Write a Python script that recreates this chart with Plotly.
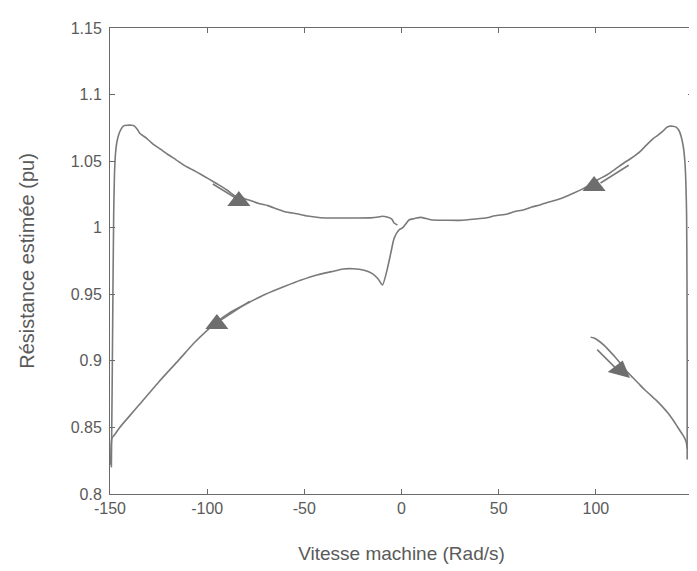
import plotly.graph_objects as go

# ---- data ----
# lower-right branch (speed 100 -> 150)
x_bas_droite = [97.3, 99, 101, 104, 107, 110, 113, 116, 119, 122, 125, 128, 131, 134, 137, 140, 142, 144, 145.5, 146.5, 147.0]
y_bas_droite = [0.9177, 0.9172, 0.9155, 0.912, 0.9075, 0.9027, 0.8975, 0.892, 0.8875, 0.883, 0.8785, 0.8745, 0.8705, 0.866, 0.861, 0.855, 0.8505, 0.846, 0.8425, 0.839, 0.834]

# right vertical, upper-right branch (150 -> 0), centre dip and lower-left branch (0 -> -150)
x_haut_droite = [147.0, 147.0, 146.9, 146.7, 146.3, 145.8, 145.0, 144.0, 142.8, 141.3, 139.5, 137.8, 136.3, 134.5, 132, 129.8, 126, 122.9,
                 118, 114.4, 110, 105.8, 101, 97.2, 93, 88.7, 84, 80.1, 75, 71.6, 67, 63, 58, 54.4, 48,
                 44, 38, 30, 23.6, 15, 9.9, 6.5, 4, 0.5, -1.2, -3.8, -5.5, -7.2, -9.8, -12, -15, -19.2,
                 -25, -30, -36, -43, -52, -60, -70, -79, -88, -96, -106, -115, -125, -135,
                 -140, -145, -147.6, -149, -149.6]
y_haut_droite = [0.826, 0.90, 0.96, 1.01, 1.035, 1.050, 1.061, 1.068, 1.073, 1.0755, 1.0762, 1.0762, 1.0752, 1.0725, 1.0695, 1.0672, 1.062, 1.0574,
                 1.052, 1.0486, 1.044, 1.0398, 1.036, 1.0323, 1.029, 1.026, 1.023, 1.021, 1.019, 1.0173, 1.0155, 1.0135, 1.012, 1.0103, 1.009,
                 1.0075, 1.0065, 1.0055, 1.0056, 1.006, 1.0078, 1.0068, 1.006, 0.9998, 0.9985, 0.992, 0.981, 0.9697, 0.957, 0.9615, 0.9655, 0.968,
                 0.9692, 0.969, 0.967, 0.9647, 0.9605, 0.956, 0.950, 0.9435, 0.9365, 0.928, 0.9145, 0.900, 0.884, 0.867,
                 0.8585, 0.850, 0.8445, 0.842, 0.822]

# left vertical and upper-left branch (-150 -> 0)
x_haut_gauche = [-149.3, -148.9, -148.5, -148.1, -147.7, -147.2, -146.5, -145.5, -144.3, -143, -141, -139, -137.5, -136, -134.7, -131, -128, -124, -120.2,
                 -116, -112, -107.5, -103.1, -99, -95, -90, -85.9, -81, -77, -73, -68.8, -64, -60, -54, -48.3, -41.6, -32.9, -24, -16, -12, -10, -7, -5, -3.8, -2.1]
y_haut_gauche = [0.82, 0.88, 0.95, 1.01, 1.04, 1.055, 1.064, 1.070, 1.074, 1.0765, 1.077, 1.077, 1.0765, 1.074, 1.071, 1.067, 1.063, 1.059, 1.055,
                 1.051, 1.047, 1.0435, 1.040, 1.0365, 1.033, 1.0285, 1.024, 1.022, 1.020, 1.018, 1.0166, 1.014, 1.012, 1.0105, 1.0088, 1.0075, 1.0073, 1.0073, 1.0074, 1.008, 1.0086, 1.0078, 1.0065, 1.0035, 1.002]

# direction arrows: shaft start/end and triangle head
fleche_x0 = [-97.1, 116.9, -78.2, 100.7]
fleche_y0 = [1.0328, 1.0469, 0.9447, 0.9084]
fleche_x1 = [-85.3, 102.4, -92.8, 111.0]
fleche_y1 = [1.0223, 1.0336, 0.9309, 0.8934]
tete_x = [-83.7, 99.1, -95.0, 112.5]
tete_y = [1.020, 1.0313, 0.9277, 0.893]
tete_angle = [0, 0, 0, 15]

x_ticks = [-150, -100, -50, 0, 50, 100, 150]
y_ticks = [0.8, 0.85, 0.9, 0.95, 1.0, 1.05, 1.1, 1.15]
y_tick_labels = ["0.8", "0.85", "0.9", "0.95", "1", "1.05", "1.1", "1.15"]

LINE = "#7a7a7a"
TEXT = "#5a5a5a"
FONT = "Liberation Sans, Arial, sans-serif"

fig = go.Figure()
for xs, ys in [(x_bas_droite, y_bas_droite), (x_haut_droite, y_haut_droite), (x_haut_gauche, y_haut_gauche)]:
    fig.add_trace(go.Scatter(x=xs, y=ys, mode="lines", line=dict(color=LINE, width=1.6, shape="spline", smoothing=0.6),
                             showlegend=False, hoverinfo="skip"))

for i in range(len(fleche_x0)):
    fig.add_trace(go.Scatter(x=[fleche_x0[i], fleche_x1[i]], y=[fleche_y0[i], fleche_y1[i]], mode="lines",
                             line=dict(color=LINE, width=1.6), showlegend=False, hoverinfo="skip"))

fig.add_trace(go.Scatter(x=tete_x, y=tete_y, mode="markers",
                         marker=dict(symbol="triangle-up", size=20, color="#6e6e6e", angle=tete_angle,
                                     line=dict(width=0)),
                         showlegend=False, hoverinfo="skip"))

axis_common = dict(showgrid=False, zeroline=False, showline=True, linecolor="#6a6a6a", linewidth=1,
                   mirror="ticks", ticks="inside", ticklen=5, tickcolor="#6a6a6a", automargin=False,
                   tickfont=dict(family=FONT, size=16, color=TEXT))

fig.update_xaxes(range=[-150, 150], tickvals=x_ticks, ticktext=[str(v) for v in x_ticks],
                 title=dict(text="Vitesse machine (Rad/s)", standoff=30,
                            font=dict(family=FONT, size=19, color=TEXT)),
                 **axis_common)
fig.update_yaxes(range=[0.8, 1.15], tickvals=y_ticks, ticktext=y_tick_labels, ticklabelstandoff=4,
                 title=dict(text="Résistance estimée (pu)", standoff=30,
                            font=dict(family=FONT, size=20, color=TEXT)),
                 **axis_common)

fig.update_layout(width=697, height=571, margin=dict(l=102, r=12, t=20, b=85),
                  paper_bgcolor="white", plot_bgcolor="white")

fig.write_html("out.html")
